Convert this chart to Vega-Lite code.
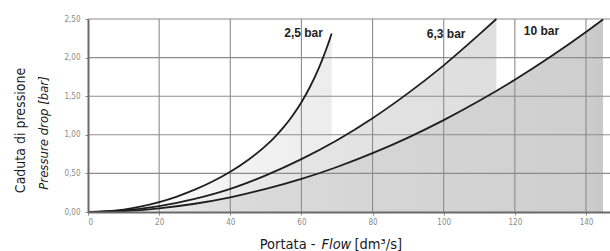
{
  "$schema": "https://vega.github.io/schema/vega-lite/v6.json",
  "width": 522,
  "height": 193,
  "autosize": {"type": "none"},
  "padding": {"left": 88, "top": 19, "right": 0, "bottom": 39},
  "background": "white",
  "config": {
    "view": {"stroke": null},
    "axis": {
      "domainColor": "#6a6a6a",
      "domainWidth": 2,
      "tickColor": "#8a8a8a",
      "tickSize": 3,
      "labelFont": "DejaVu Sans Condensed, DejaVu Sans, sans-serif",
      "labelFontSize": 8,
      "labelColor": "#8a8a8a",
      "titleFont": "DejaVu Sans Condensed, DejaVu Sans, sans-serif",
      "titleFontWeight": "normal",
      "titleColor": "#1a1a1a"
    }
  },
  "datasets": {
    "curves": [
      {"s": "2,5 bar", "q": 0, "p": 0}, {"s": "2,5 bar", "q": 5, "p": 0.008}, {"s": "2,5 bar", "q": 10, "p": 0.032},
      {"s": "2,5 bar", "q": 15, "p": 0.072}, {"s": "2,5 bar", "q": 20, "p": 0.128}, {"s": "2,5 bar", "q": 25, "p": 0.2},
      {"s": "2,5 bar", "q": 30, "p": 0.289}, {"s": "2,5 bar", "q": 35, "p": 0.395}, {"s": "2,5 bar", "q": 40, "p": 0.521},
      {"s": "2,5 bar", "q": 45, "p": 0.673}, {"s": "2,5 bar", "q": 50, "p": 0.859}, {"s": "2,5 bar", "q": 52.5, "p": 0.971},
      {"s": "2,5 bar", "q": 55, "p": 1.099}, {"s": "2,5 bar", "q": 57.5, "p": 1.248}, {"s": "2,5 bar", "q": 60, "p": 1.422},
      {"s": "2,5 bar", "q": 62.5, "p": 1.629}, {"s": "2,5 bar", "q": 65, "p": 1.877}, {"s": "2,5 bar", "q": 66, "p": 1.99},
      {"s": "2,5 bar", "q": 67, "p": 2.111}, {"s": "2,5 bar", "q": 68, "p": 2.243}, {"s": "2,5 bar", "q": 68.5, "p": 2.313},
      {"s": "6,3 bar", "q": 0, "p": 0}, {"s": "6,3 bar", "q": 10, "p": 0.02}, {"s": "6,3 bar", "q": 20, "p": 0.076},
      {"s": "6,3 bar", "q": 30, "p": 0.17}, {"s": "6,3 bar", "q": 40, "p": 0.3}, {"s": "6,3 bar", "q": 50, "p": 0.475},
      {"s": "6,3 bar", "q": 60, "p": 0.685}, {"s": "6,3 bar", "q": 70, "p": 0.93}, {"s": "6,3 bar", "q": 80, "p": 1.215},
      {"s": "6,3 bar", "q": 90, "p": 1.54}, {"s": "6,3 bar", "q": 100, "p": 1.9}, {"s": "6,3 bar", "q": 110, "p": 2.3},
      {"s": "6,3 bar", "q": 114.8, "p": 2.5},
      {"s": "10 bar", "q": 0, "p": 0}, {"s": "10 bar", "q": 10, "p": 0.012}, {"s": "10 bar", "q": 20, "p": 0.048},
      {"s": "10 bar", "q": 30, "p": 0.107}, {"s": "10 bar", "q": 40, "p": 0.19}, {"s": "10 bar", "q": 50, "p": 0.298},
      {"s": "10 bar", "q": 60, "p": 0.428}, {"s": "10 bar", "q": 70, "p": 0.583}, {"s": "10 bar", "q": 80, "p": 0.762},
      {"s": "10 bar", "q": 90, "p": 0.964}, {"s": "10 bar", "q": 100, "p": 1.19}, {"s": "10 bar", "q": 110, "p": 1.44},
      {"s": "10 bar", "q": 120, "p": 1.714}, {"s": "10 bar", "q": 130, "p": 2.011}, {"s": "10 bar", "q": 140, "p": 2.332},
      {"s": "10 bar", "q": 144.8, "p": 2.495}
    ],
    "labels": [
      {"t": "2,5 bar", "q": 60.6, "p": 2.27},
      {"t": "6,3 bar", "q": 100.7, "p": 2.26},
      {"t": "10 bar", "q": 127.5, "p": 2.29}
    ],
    "gridx": [{"q": 20}, {"q": 40}, {"q": 60}, {"q": 80}, {"q": 100}, {"q": 120}, {"q": 140}],
    "gridy": [{"p": 0.5}, {"p": 1}, {"p": 1.5}, {"p": 2}, {"p": 2.5}]
  },
  "resolve": {"axis": {"x": "independent", "y": "independent"}},
  "layer": [
    {
      "data": {"name": "curves"},
      "transform": [{"filter": "datum.s === '2,5 bar'"}],
      "mark": {"type": "area", "interpolate": "monotone",
        "color": {"gradient": "linear", "x1": 0, "x2": 1, "y1": 0, "y2": 0,
          "stops": [{"offset": 0, "color": "#ffffff"}, {"offset": 0.6, "color": "#f3f3f3"}, {"offset": 1, "color": "#ececec"}]}},
      "encoding": {
        "x": {"field": "q", "type": "quantitative", "scale": {"domain": [0, 146.75], "nice": false, "zero": false},
          "axis": {"zindex": 1, "values": [0, 20, 40, 60, 80, 100, 120, 140], "grid": false, "labelPadding": 3,
            "title": "Portata -", "titleFontSize": 14.5, "titleX": 227, "titleY": 36, "titleAlign": "right", "titleBaseline": "alphabetic"}},
        "y": {"field": "p", "type": "quantitative", "scale": {"domain": [0, 2.5], "nice": false},
          "axis": {"zindex": 1, "values": [0, 0.5, 1, 1.5, 2, 2.5], "grid": false, "labelPadding": 5,
            "labelExpr": "replace(format(datum.value, '.2f'), '.', ',')",
            "title": "Caduta di pressione", "titleFontSize": 14, "titleX": -63.3, "titleY": 111, "titleAngle": 270, "titleAlign": "center", "titleBaseline": "alphabetic"}}
      }
    },
    {
      "data": {"name": "curves"},
      "transform": [{"filter": "datum.s === '6,3 bar'"}],
      "mark": {"type": "area", "interpolate": "monotone",
        "color": {"gradient": "linear", "x1": 0, "x2": 1, "y1": 0, "y2": 0,
          "stops": [{"offset": 0, "color": "#ffffff"}, {"offset": 0.45, "color": "#e6e6e6"}, {"offset": 1, "color": "#dedede"}]}},
      "encoding": {
        "x": {"field": "q", "type": "quantitative",
          "axis": {"orient": "bottom", "grid": false, "labels": false, "ticks": false, "domain": false,
            "title": "Flow", "titleFontStyle": "italic", "titleFontSize": 14.5, "titleX": 233, "titleY": 36, "titleAlign": "left", "titleBaseline": "alphabetic"}},
        "y": {"field": "p", "type": "quantitative",
          "axis": {"orient": "left", "grid": false, "labels": false, "ticks": false, "domain": false,
            "title": "Pressure drop [bar]", "titleFontStyle": "italic", "titleFontSize": 13, "titleX": -40.3, "titleY": 113.5, "titleAngle": 270, "titleAlign": "center", "titleBaseline": "alphabetic"}}
      }
    },
    {
      "data": {"name": "curves"},
      "transform": [{"filter": "datum.s === '10 bar'"}],
      "mark": {"type": "area", "interpolate": "monotone",
        "color": {"gradient": "linear", "x1": 0, "x2": 1, "y1": 0, "y2": 0,
          "stops": [{"offset": 0, "color": "#f8f8f8"}, {"offset": 0.3, "color": "#dadada"}, {"offset": 0.96, "color": "#cfcfcf"}, {"offset": 1, "color": "#c8c8c8"}]}},
      "encoding": {
        "x": {"field": "q", "type": "quantitative",
          "axis": {"orient": "bottom", "grid": false, "labels": false, "ticks": false, "domain": false,
            "title": "[dm³/s]", "titleFontSize": 14.5, "titleX": 266, "titleY": 36, "titleAlign": "left", "titleBaseline": "alphabetic"}},
        "y": {"field": "p", "type": "quantitative", "axis": null}
      }
    },
    {
      "data": {"name": "gridx"},
      "mark": {"type": "rule", "color": "#8c8c8c", "strokeWidth": 1.1},
      "encoding": {"x": {"field": "q", "type": "quantitative", "axis": null}}
    },
    {
      "data": {"name": "gridy"},
      "mark": {"type": "rule", "color": "#8c8c8c", "strokeWidth": 1.1},
      "encoding": {"y": {"field": "p", "type": "quantitative", "axis": null}}
    },
    {
      "data": {"name": "curves"},
      "mark": {"type": "line", "interpolate": "monotone", "color": "#1e1e1e", "strokeWidth": 1.8},
      "encoding": {
        "x": {"field": "q", "type": "quantitative", "axis": null},
        "y": {"field": "p", "type": "quantitative", "axis": null},
        "detail": {"field": "s", "type": "nominal"}
      }
    },
    {
      "data": {"name": "labels"},
      "mark": {"type": "text", "font": "Liberation Sans, Arial, sans-serif", "fontWeight": "bold", "fontSize": 12, "color": "#222222", "align": "center", "baseline": "alphabetic"},
      "encoding": {
        "x": {"field": "q", "type": "quantitative", "axis": null},
        "y": {"field": "p", "type": "quantitative", "axis": null},
        "text": {"field": "t", "type": "nominal"}
      }
    }
  ]
}
